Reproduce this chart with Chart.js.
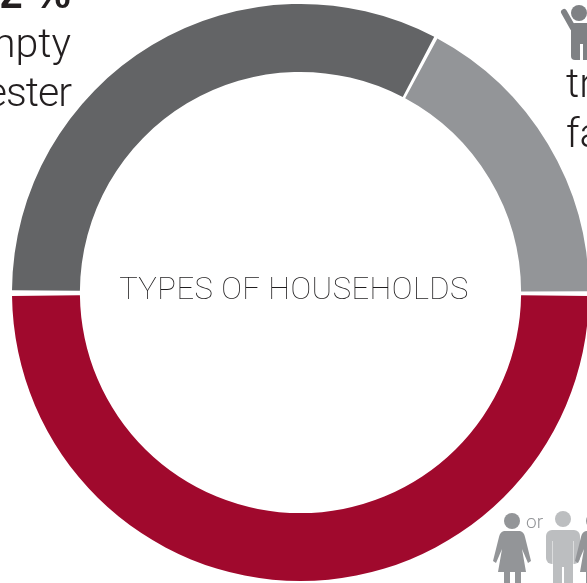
<!DOCTYPE html>
<html>
<head>
<meta charset="utf-8">
<style>
  html, body { margin: 0; padding: 0; background: #fff; overflow: hidden; }
  #wrap { position: relative; width: 587px; height: 583px; overflow: hidden; }
  canvas { display: block; }
</style>
<script src="https://cdn.jsdelivr.net/npm/chart.js"></script>
</head>
<body>
<div id="wrap"><canvas id="households" width="603" height="585"></canvas></div>
<script>
const categories = ["Empty nester", "Traditional family", "Single adult or couple"];
const shares = [32.8, 17.2, 50];
const sliceColors = ["#636466", "#939598", "#a0092d"];

const centerTitle = "TYPES OF HOUSEHOLDS";

function drawWoman(ctx, cx) {
  ctx.fillStyle = "#939598";
  ctx.beginPath();
  ctx.arc(cx, 521, 8, 0, Math.PI * 2);
  ctx.fill();
  ctx.beginPath();
  ctx.moveTo(cx - 8, 531);
  ctx.lineTo(cx + 8, 531);
  ctx.quadraticCurveTo(cx + 12, 532, cx + 13, 537);
  ctx.lineTo(cx + 19, 561);
  ctx.lineTo(cx + 16, 563);
  ctx.lineTo(cx + 10, 549);
  ctx.lineTo(cx + 14, 572);
  ctx.lineTo(cx + 9, 572);
  ctx.lineTo(cx + 9, 583);
  ctx.lineTo(cx + 3, 583);
  ctx.lineTo(cx + 3, 572);
  ctx.lineTo(cx - 2, 572);
  ctx.lineTo(cx - 2, 583);
  ctx.lineTo(cx - 8, 583);
  ctx.lineTo(cx - 8, 572);
  ctx.lineTo(cx - 14, 572);
  ctx.lineTo(cx - 10, 549);
  ctx.lineTo(cx - 16, 563);
  ctx.lineTo(cx - 19, 561);
  ctx.lineTo(cx - 13, 537);
  ctx.quadraticCurveTo(cx - 12, 532, cx - 8, 531);
  ctx.fill();
}

function drawMan(ctx, cx) {
  ctx.fillStyle = "#bcbec0";
  ctx.beginPath();
  ctx.arc(cx, 519, 8, 0, Math.PI * 2);
  ctx.fill();
  ctx.beginPath();
  ctx.roundRect(cx - 17, 530, 34, 34, 6);
  ctx.fill();
  ctx.fillRect(cx - 10, 555, 20, 28);
  ctx.fillStyle = "#fff";
  ctx.fillRect(cx - 1, 567, 2, 16);
  ctx.fillStyle = "#dcddde";
  ctx.fillRect(cx - 11, 541, 1, 23);
  ctx.fillRect(cx + 10, 541, 1, 23);
}

function drawChild(ctx) {
  ctx.fillStyle = "#7f8184";
  ctx.strokeStyle = "#7f8184";
  ctx.beginPath();
  ctx.arc(579, 13, 8, 0, Math.PI * 2);
  ctx.fill();
  ctx.lineWidth = 6;
  ctx.lineCap = "round";
  ctx.beginPath();
  ctx.moveTo(564, 12);
  ctx.lineTo(573, 28);
  ctx.stroke();
  ctx.beginPath();
  ctx.roundRect(571, 23, 24, 37, 4);
  ctx.fill();
  ctx.fillStyle = "#fff";
  ctx.fillRect(580, 44, 3, 16);
}

const householdLabels = {
  id: "householdLabels",
  afterDraw(chart) {
    const ctx = chart.ctx;
    ctx.save();
    ctx.textBaseline = "alphabetic";

    ctx.fillStyle = "#1f1d1e";
    ctx.textAlign = "center";
    ctx.font = "100 31px Roboto";
    ctx.letterSpacing = "0.45px";
    ctx.fillText(centerTitle, 294, 299);
    ctx.letterSpacing = "0px";

    // outer callouts, cut by the page edge
    ctx.fillStyle = "#231f20";
    ctx.font = "bold 41px 'Liberation Sans'";
    ctx.textAlign = "left";
    ctx.fillText("2 %", 0, 8);
    ctx.font = "300 41px Roboto";
    ctx.textAlign = "right";
    ctx.fillText("npty", 71, 57);
    ctx.letterSpacing = "-1px";
    ctx.fillText("ester", 71, 106);
    ctx.letterSpacing = "0px";
    ctx.textAlign = "left";
    ctx.fillText("tr", 566, 97);
    ctx.fillText("fa", 566, 147);

    drawChild(ctx);
    drawWoman(ctx, 512);
    drawMan(ctx, 563);
    drawWoman(ctx, 594);
    ctx.fillStyle = "#939598";
    ctx.font = "300 19px Roboto";
    ctx.textAlign = "left";
    ctx.fillText("or", 526, 528);
    ctx.restore();
  }
};

// the ring runs past the right edge of the page, so the canvas is wider than the wrapper
new Chart(document.getElementById("households"), {
  type: "doughnut",
  data: {
    labels: categories,
    datasets: [{
      data: shares,
      backgroundColor: sliceColors,
      borderWidth: 0,
      spacing: 4
    }]
  },
  options: {
    responsive: false,
    animation: false,
    rotation: -90,
    cutout: "76.3%",
    layout: { padding: { left: 12, top: 4, right: 14, bottom: 4 } },
    plugins: { legend: { display: false }, tooltip: { enabled: false } }
  },
  plugins: [householdLabels]
});
</script>
</body>
</html>
